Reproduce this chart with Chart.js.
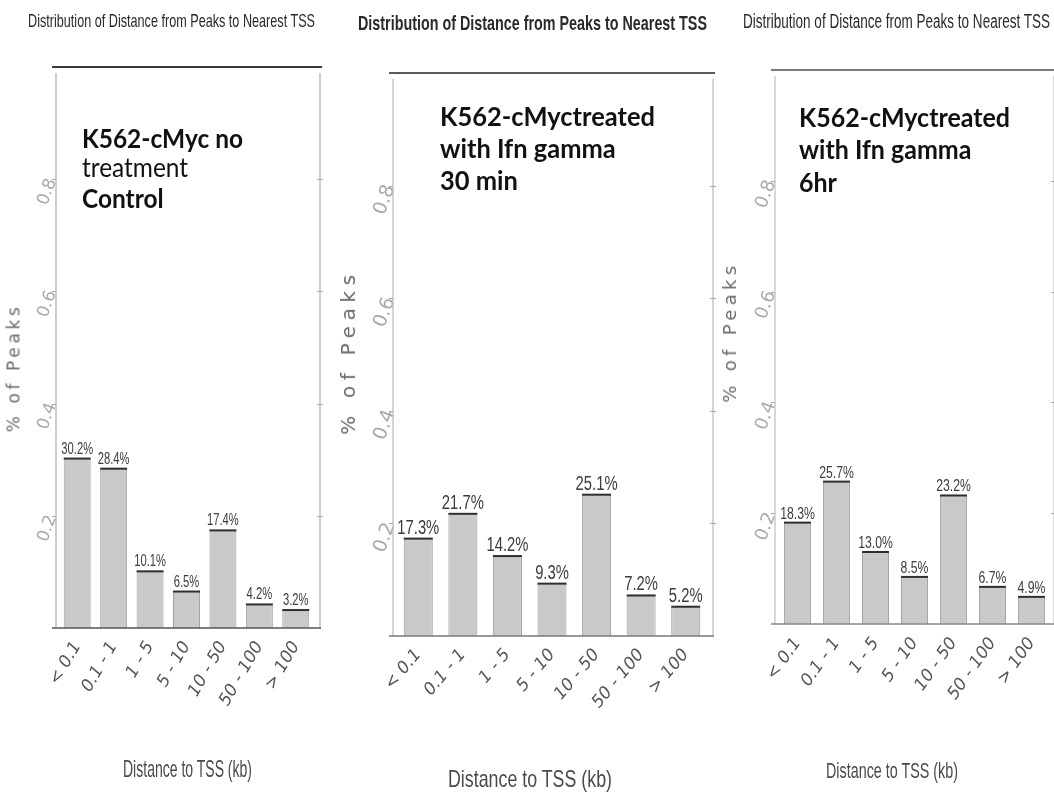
<!DOCTYPE html>
<html>
<head>
<meta charset="utf-8">
<script src="https://cdn.jsdelivr.net/npm/chart.js@4/dist/chart.umd.min.js"></script>
<style>
  html, body { margin: 0; padding: 0; background: #fff; }
  body { position: relative; width: 1054px; height: 793px; overflow: hidden; }
  canvas.cv { position: absolute; top: 0; }
  .t { position: absolute; white-space: nowrap; line-height: 1; transform-origin: 0 0; }
  .yt { position: absolute; white-space: nowrap; line-height: 1; transform-origin: 50% 50%; }
</style>
</head>
<body>
<script>
// ---- data ----
const categories = ['< 0.1', '0.1 - 1', '1 - 5', '5 - 10', '10 - 50', '50 - 100', '> 100'];
const controlPct = [30.2, 28.4, 10.1, 6.5, 17.4, 4.2, 3.2];
const ifn30minPct = [17.3, 21.7, 14.2, 9.3, 25.1, 7.2, 5.2];
const ifn6hrPct = [18.3, 25.7, 13.0, 8.5, 23.2, 6.7, 4.9];
const yTickValues = [0.2, 0.4, 0.6, 0.8];
const yMin = 0;
const yMax = 1;
const chartTitle = 'Distribution of Distance from Peaks to Nearest TSS';
const xAxisTitle = 'Distance to TSS (kb)';
const yAxisTitle = '% of Peaks';
const controlNote = ['K562-cMyc no', 'treatment', 'Control'];
const ifn30minNote = ['K562-cMyctreated', 'with Ifn gamma', '30 min'];
const ifn6hrNote = ['K562-cMyctreated', 'with Ifn gamma', '6hr'];

// ---- layout / style per panel ----
const panels = [
  {
    values: controlPct, note: controlNote, noteWeights: [700, 400, 700],
    left: 0, width: 330, top: 67, padRight: 16, yWidth: 59, xHeight: 165,
    frameL: -3, frameR: 6, barPct: 0.74, xRot: 60, xFont: 17, xPad: 10, yPad: 7, yFont: 17,
    labelFont: 16, labelScale: 0.7, labelGap: 5,
    topColor: '#3a3a3a', baseColor: '#555', sideColor: '#b5b5b5',
    title: { x: 28, w: 287, base: 27, size: 19, weight: 400 },
    xt: { x: 123, w: 129, base: 777, size: 24 },
    yt: { cx: 14, cy: 368, len: 125, size: 17 },
    nt: { x: 82, w: 161, bases: [148, 177, 208], size: 26 }
  },
  {
    values: ifn30minPct, note: ifn30minNote, noteWeights: [700, 700, 700],
    left: 340, width: 376, top: 73, padRight: 8, yWidth: 56, xHeight: 157,
    frameL: -3, frameR: 5, barPct: 0.65, xRot: 50, xFont: 17, xPad: 9, yPad: 6, yFont: 19,
    labelFont: 20, labelScale: 0.74, labelGap: 5,
    topColor: '#5a5a5a', baseColor: '#777', sideColor: '#bdbdbd',
    title: { x: 358, w: 349, base: 30, size: 21, weight: 700 },
    xt: { x: 448, w: 164, base: 787, size: 24 },
    yt: { cx: 348, cy: 352, len: 160, size: 20 },
    nt: { x: 440, w: 215, bases: [126, 158, 190], size: 26 }
  },
  {
    values: ifn6hrPct, note: ifn6hrNote, noteWeights: [700, 700, 700],
    left: 716, width: 338, top: 70, padRight: 3, yWidth: 62, xHeight: 169,
    frameL: -3, frameR: 3, barPct: 0.69, xRot: 55, xFont: 17, xPad: 10, yPad: 7, yFont: 18,
    labelFont: 17, labelScale: 0.72, labelGap: 4,
    topColor: '#7a7a7a', baseColor: '#888', sideColor: '#c4c4c4',
    title: { x: 743, w: 307, base: 28, size: 20, weight: 400 },
    xt: { x: 826, w: 132, base: 779, size: 22 },
    yt: { cx: 730, cy: 332, len: 137, size: 18 },
    nt: { x: 799, w: 211, bases: [127, 159, 192], size: 26 }
  }
];

// Frame, tick marks, bar top edges and value labels
const framePlugin = {
  id: 'panelFrame',
  afterDatasetsDraw(chart, args, opts) {
    const p = opts.panel;
    const { ctx, chartArea } = chart;
    const ys = chart.scales.y;
    const fl = chartArea.left + p.frameL;
    const fr = chartArea.right + p.frameR;
    const top = ys.getPixelForValue(yMax);
    const bottom = ys.getPixelForValue(yMin);
    ctx.save();
    // top border
    ctx.strokeStyle = p.topColor; ctx.lineWidth = 2;
    ctx.beginPath(); ctx.moveTo(fl - 4, top); ctx.lineTo(fr + 2, top); ctx.stroke();
    // side borders
    ctx.strokeStyle = p.sideColor; ctx.lineWidth = 1.3;
    ctx.beginPath();
    ctx.moveTo(fl, top + 6); ctx.lineTo(fl, bottom);
    ctx.moveTo(fr, top + 6); ctx.lineTo(fr, bottom);
    ctx.stroke();
    // tick marks
    ctx.strokeStyle = '#a8a8a8'; ctx.lineWidth = 1;
    ctx.beginPath();
    yTickValues.forEach(v => {
      const y = Math.round(ys.getPixelForValue(v)) + 0.5;
      ctx.moveTo(fl - 4, y); ctx.lineTo(fl, y);
      ctx.moveTo(fr - 3, y); ctx.lineTo(fr + 3, y);
    });
    ctx.stroke();
    // baseline
    ctx.strokeStyle = p.baseColor; ctx.lineWidth = 1.5;
    ctx.beginPath(); ctx.moveTo(fl - 4, bottom); ctx.lineTo(fr + 1, bottom); ctx.stroke();

    const meta = chart.getDatasetMeta(0);
    meta.data.forEach((bar, i) => {
      const half = bar.width / 2;
      // dark top edge of each bar
      ctx.strokeStyle = '#2e2e2e'; ctx.lineWidth = 2;
      ctx.beginPath(); ctx.moveTo(bar.x - half, bar.y); ctx.lineTo(bar.x + half, bar.y); ctx.stroke();
      // value label
      const txt = p.values[i].toFixed(1) + '%';
      ctx.save();
      ctx.translate(bar.x, bar.y - p.labelGap);
      ctx.scale(p.labelScale, 1);
      ctx.font = p.labelFont + 'px "Liberation Sans", Arial, sans-serif';
      ctx.fillStyle = '#3c3c3c';
      ctx.textAlign = 'center';
      ctx.textBaseline = 'alphabetic';
      ctx.fillText(txt, 0, 0);
      ctx.restore();
    });
    ctx.restore();
  }
};

function makePanel(p) {
  const canvas = document.createElement('canvas');
  canvas.className = 'cv';
  canvas.width = p.width; canvas.height = 793;
  canvas.style.left = p.left + 'px';
  canvas.style.width = p.width + 'px';
  canvas.style.height = '793px';
  document.body.appendChild(canvas);
  return new Chart(canvas, {
    type: 'bar',
    data: {
      labels: categories,
      datasets: [{
        data: p.values.map(v => v / 100),
        backgroundColor: '#c9c9c9',
        borderColor: '#a0a0a0',
        borderWidth: { left: 1, right: 1, top: 0, bottom: 0 },
        barPercentage: p.barPct,
        categoryPercentage: 1
      }]
    },
    options: {
      responsive: false,
      animation: false,
      devicePixelRatio: 1,
      layout: { padding: { left: 0, right: p.padRight, top: p.top, bottom: 0 } },
      plugins: {
        legend: { display: false },
        tooltip: { enabled: false },
        title: { display: false },
        panelFrame: { panel: p }
      },
      scales: {
        x: {
          grid: { display: false, drawTicks: false },
          border: { display: false },
          ticks: {
            autoSkip: false, minRotation: p.xRot, maxRotation: p.xRot, padding: p.xPad,
            color: '#555', font: { family: '"DejaVu Sans", sans-serif', size: p.xFont, style: 'italic' }
          },
          afterFit: s => { s.height = p.xHeight; s.paddingLeft = 0; s.paddingRight = 0; }
        },
        y: {
          min: yMin, max: yMax,
          grid: { display: false, drawTicks: false },
          border: { display: false },
          afterBuildTicks: s => { s.ticks = yTickValues.map(v => ({ value: v })); },
          ticks: {
            minRotation: 70, maxRotation: 70, padding: p.yPad,
            color: '#a9a9a9', font: { family: '"DejaVu Sans", sans-serif', size: p.yFont },
            callback: v => String(v)
          },
          afterFit: s => { s.width = p.yWidth; s.paddingTop = 0; s.paddingBottom = 0; }
        }
      }
    },
    plugins: [framePlugin]
  });
}

// HTML text helpers
function addLine(str, o) {
  const el = document.createElement('div');
  el.className = 't';
  el.textContent = str;
  el.style.fontFamily = o.family;
  el.style.fontSize = o.size + 'px';
  el.style.fontWeight = o.weight || 400;
  el.style.color = o.color;
  document.body.appendChild(el);
  const w = el.getBoundingClientRect().width;
  const sx = o.width ? o.width / w : (o.scale || 1);
  el.style.left = o.x + 'px';
  el.style.top = (o.base - o.asc * o.size) + 'px';
  el.style.transform = 'scaleX(' + sx + ')';
  return sx;
}

function addYTitle(str, o) {
  const el = document.createElement('div');
  el.className = 'yt';
  el.textContent = str;
  el.style.fontFamily = '"DejaVu Sans", sans-serif';
  el.style.fontSize = o.size + 'px';
  el.style.color = '#6a6a6a';
  document.body.appendChild(el);
  const w = el.getBoundingClientRect().width;
  const ls = Math.max(0, (o.len - w) / (str.length - 1));
  el.style.letterSpacing = ls + 'px';
  el.style.left = o.cx + 'px';
  el.style.top = o.cy + 'px';
  el.style.transform = 'translate(-50%, -50%) rotate(-90deg)';
}

panels.forEach(p => {
  makePanel(p);
  addLine(chartTitle, { family: '"Liberation Sans", Arial, sans-serif', size: p.title.size, weight: p.title.weight,
    color: '#2a2a2a', x: p.title.x, width: p.title.w, base: p.title.base, asc: 0.85 });
  addLine(xAxisTitle, { family: '"Liberation Sans", Arial, sans-serif', size: p.xt.size,
    color: '#4a4a4a', x: p.xt.x, width: p.xt.w, base: p.xt.base, asc: 0.85 });
  addYTitle(yAxisTitle, p.yt);
  const noteFamily = 'Lato, "Open Sans", sans-serif';
  const sx = addLine(p.note[0], { family: noteFamily, size: p.nt.size, weight: p.noteWeights[0],
    color: '#111', x: p.nt.x, width: p.nt.w, base: p.nt.bases[0], asc: 0.89 });
  for (let i = 1; i < p.note.length; i++) {
    addLine(p.note[i], { family: noteFamily, size: p.nt.size, weight: p.noteWeights[i],
      color: '#111', x: p.nt.x, scale: sx, base: p.nt.bases[i], asc: 0.89 });
  }
});
</script>
</body>
</html>
